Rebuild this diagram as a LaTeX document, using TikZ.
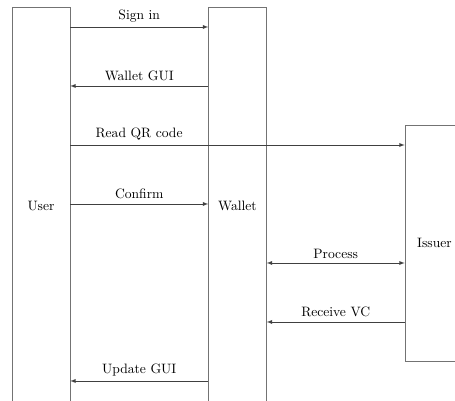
\documentclass[tikz,border=0pt]{standalone}
\usetikzlibrary{arrows}

\tikzset{
  party/.style={draw=black!55, rectangle, inner sep=0, minimum width=42.6pt, minimum height=292.5pt},
  msg/.style={->, >=latex, draw=black!75}
}

\begin{document}
\begin{tikzpicture}[x=0.735pt, y=-0.735pt]
\useasboundingbox (0,0) rectangle (455,401);
% lifelines
\node[party] (user) at (41,206) {User};
\node[party] (wallet) at (237.5,206) {Wallet};
\node[party, minimum width=43.4pt, minimum height=173.5pt] (issuer) at (434.5,243) {Issuer};
% messages
\draw[msg] (user.east |- 0,27) -- node[above] {Sign in} (wallet.west |- 0,27);
\draw[msg] (wallet.west |- 0,86) -- node[above] {Wallet GUI} (user.east |- 0,86);
\draw[msg] (user.east |- 0,145) -- node[above, pos=0.206] {Read QR code} (issuer.west |- 0,145);
\draw[msg] (user.east |- 0,204) -- node[above] {Confirm} (wallet.west |- 0,204);
\draw[msg, <->] (wallet.east |- 0,263) -- node[above] {Process} (issuer.west |- 0,263);
\draw[msg] (issuer.west |- 0,322) -- node[above] {Receive VC} (wallet.east |- 0,322);
\draw[msg] (wallet.west |- 0,381) -- node[above] {Update GUI} (user.east |- 0,381);
\end{tikzpicture}
\end{document}
